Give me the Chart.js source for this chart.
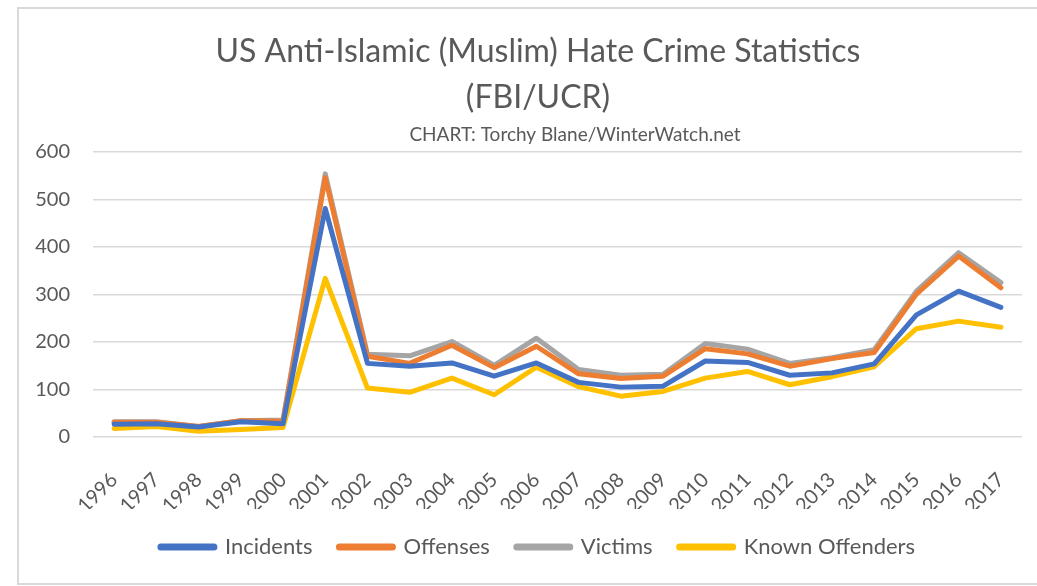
<!DOCTYPE html>
<html>
<head>
<meta charset="utf-8">
<script src="https://cdn.jsdelivr.net/npm/chart.js@4.4.0/dist/chart.umd.min.js"></script>
<style>
  html, body { margin: 0; padding: 0; background: #fff; overflow: hidden; width: 1037px; height: 586px; }
  #frame { position: absolute; left: 17px; top: 7px; width: 1060px; height: 578px; border: 2px solid #d9d9d9; box-sizing: border-box; }
  #wrap { position: absolute; left: 0; top: 0; width: 1076px; height: 586px; }
</style>
</head>
<body>
<div id="frame"></div>
<div id="wrap"><canvas id="chart" width="1076" height="586"></canvas></div>
<script>
const years = ['1996', '1997', '1998', '1999', '2000', '2001', '2002', '2003', '2004', '2005', '2006',
  '2007', '2008', '2009', '2010', '2011', '2012', '2013', '2014', '2015', '2016', '2017'];
const incidents = [27, 28, 21, 32, 28, 481, 155, 149, 156, 128, 156, 115, 105, 107, 160, 157, 130, 135, 154, 257, 307, 273];
const offenses = [31, 31, 22, 34, 33, 546, 170, 155, 193, 146, 191, 133, 123, 128, 186, 175, 149, 165, 178, 301, 381, 314];
const victims = [32, 32, 22, 34, 36, 554, 174, 171, 201, 151, 208, 142, 130, 132, 197, 185, 155, 167, 184, 307, 388, 325];
const knownOffenders = [18, 22, 12, 16, 20, 334, 103, 94, 124, 89, 147, 106, 86, 96, 124, 138, 110, 127, 148, 228, 244, 231];
const yTicks = [0, 100, 200, 300, 400, 500, 600];

const FONT = 'Lato, "Noto Sans", sans-serif';
const GREY_TEXT = '#595959';

function series(label, data, color) {
  return {
    label: label,
    data: data,
    borderColor: color,
    backgroundColor: color,
    borderWidth: 5,
    pointRadius: 0,
    pointHoverRadius: 0,
    tension: 0,
    borderJoinStyle: 'round',
    borderCapStyle: 'round'
  };
}

// subtitle sits a little right of centre in the original
const subtitlePlugin = {
  id: 'subtitleText',
  afterDraw(chart) {
    const ctx = chart.ctx;
    ctx.save();
    ctx.font = '19px ' + FONT;
    ctx.fillStyle = GREY_TEXT;
    ctx.textAlign = 'center';
    ctx.textBaseline = 'middle';
    ctx.fillText('CHART: Torchy Blane/WinterWatch.net', 575, 135);
    ctx.restore();
  }
};

new Chart(document.getElementById('chart'), {
  type: 'line',
  data: {
    labels: years,
    datasets: [
      series('Incidents', incidents, '#4472C4'),
      series('Offenses', offenses, '#ED7D31'),
      series('Victims', victims, '#A5A5A5'),
      series('Known Offenders', knownOffenders, '#FFC000')
    ]
  },
  options: {
    responsive: false,
    animation: false,
    layout: { padding: { left: 0, right: 0, top: 0, bottom: 18 } },
    plugins: {
      title: {
        display: true,
        text: ['US Anti-Islamic (Muslim) Hate Crime Statistics', '(FBI/UCR)'],
        color: GREY_TEXT,
        font: { family: FONT, size: 32, weight: 'normal', lineHeight: 46 / 32 },
        padding: { top: 29, bottom: 31 }
      },
      legend: {
        position: 'bottom',
        labels: {
          usePointStyle: true,
          pointStyle: 'line',
          pointStyleWidth: 53,
          padding: 27,
          color: GREY_TEXT,
          font: { family: FONT, size: 22 },
          generateLabels(chart) {
            return Chart.defaults.plugins.legend.labels.generateLabels(chart)
              .map(item => Object.assign(item, { lineWidth: 7, lineCap: 'round' }));
          }
        }
      },
      tooltip: { enabled: false }
    },
    scales: {
      x: {
        offset: true,
        grid: { display: false, drawTicks: false },
        border: { display: false },
        ticks: {
          color: GREY_TEXT,
          font: { family: FONT, size: 20 },
          minRotation: 45,
          maxRotation: 45,
          padding: 31,
          autoSkip: false
        },
        afterFit(scale) { scale.height = 72; }
      },
      y: {
        min: 0,
        max: 600,
        afterBuildTicks(scale) { scale.ticks = yTicks.map(v => ({ value: v })); },
        grid: { color: '#d9d9d9', lineWidth: 1.5, drawTicks: false },
        border: { display: false },
        ticks: {
          color: GREY_TEXT,
          font: { family: FONT, size: 20 },
          padding: 23
        },
        afterFit(scale) { scale.width = 93; }
      },
      // empty right-hand margin of the plot
      yRight: {
        position: 'right',
        display: true,
        grid: { display: false, drawTicks: false },
        border: { display: false },
        ticks: { display: false },
        afterFit(scale) { scale.width = 54; }
      }
    }
  },
  plugins: [subtitlePlugin]
});
</script>
</body>
</html>
